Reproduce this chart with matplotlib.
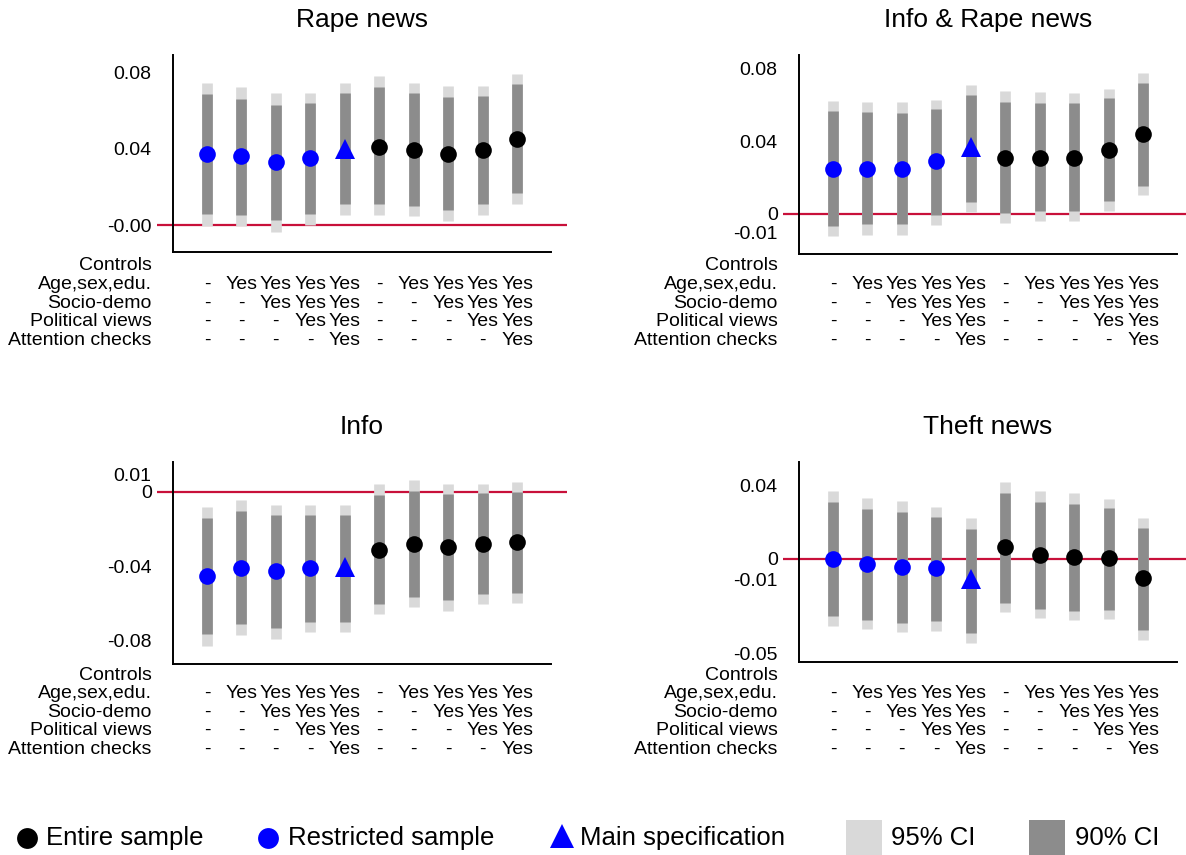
import matplotlib.pyplot as plt
from matplotlib.transforms import blended_transform_factory
from matplotlib.patches import Rectangle
import numpy as np

plt.rcParams['font.family'] = ['Liberation Sans', 'DejaVu Sans']

# specification number (1-5 restricted sample, 6-10 entire sample)
spec = np.arange(1, 11)

# ---- Rape news
rape_est = [0.037, 0.036, 0.033, 0.035, 0.040, 0.041, 0.039, 0.037, 0.039, 0.045]
rape_hi95 = [0.074, 0.072, 0.069, 0.069, 0.0745, 0.078, 0.0745, 0.0725, 0.0725, 0.079]
rape_hi90 = [0.0685, 0.066, 0.063, 0.064, 0.069, 0.072, 0.069, 0.067, 0.0675, 0.0735]
rape_lo90 = [0.006, 0.005, 0.0025, 0.006, 0.011, 0.011, 0.010, 0.008, 0.011, 0.0165]
rape_lo95 = [-0.0003, -0.0003, -0.0035, 0.0002, 0.0055, 0.0055, 0.0045, 0.002, 0.0055, 0.011]

# ---- Info & Rape news
inforape_est = [0.025, 0.025, 0.025, 0.029, 0.037, 0.031, 0.031, 0.031, 0.035, 0.044]
inforape_hi95 = [0.0625, 0.0615, 0.0615, 0.063, 0.071, 0.068, 0.067, 0.0665, 0.069, 0.078]
inforape_hi90 = [0.057, 0.056, 0.0555, 0.058, 0.0655, 0.0615, 0.061, 0.061, 0.064, 0.0725]
inforape_lo90 = [-0.007, -0.0057, -0.0057, -0.0007, 0.0065, 0.0004, 0.0015, 0.0015, 0.007, 0.0153]
inforape_lo95 = [-0.0125, -0.0115, -0.0115, -0.006, 0.001, -0.005, -0.0038, -0.0038, 0.0015, 0.0104]

# ---- Info
info_est = [-0.045, -0.0407, -0.0427, -0.041, -0.0402, -0.031, -0.028, -0.0297, -0.028, -0.027]
info_hi95 = [-0.0082, -0.0044, -0.0071, -0.0071, -0.0071, 0.0043, 0.0064, 0.0043, 0.0043, 0.0053]
info_hi90 = [-0.0139, -0.0101, -0.0123, -0.0123, -0.0123, -0.0014, 0.0005, -0.0009, -0.0005, 0.0002]
info_lo90 = [-0.0763, -0.0709, -0.0731, -0.0699, -0.0699, -0.0603, -0.0564, -0.0581, -0.0549, -0.0544]
info_lo95 = [-0.0825, -0.0766, -0.0788, -0.075, -0.075, -0.0654, -0.0617, -0.0638, -0.0601, -0.0596]

# ---- Theft news
theft_est = [0.0, -0.0027, -0.0043, -0.0052, -0.0112, 0.0063, 0.002, 0.0011, 0.0004, -0.0106]
theft_hi95 = [0.0371, 0.0333, 0.0317, 0.0285, 0.0225, 0.042, 0.0371, 0.036, 0.0328, 0.0225]
theft_hi90 = [0.0312, 0.0274, 0.0258, 0.0231, 0.0166, 0.036, 0.0312, 0.0301, 0.0279, 0.0171]
theft_lo90 = [-0.031, -0.0332, -0.0348, -0.0342, -0.0407, -0.024, -0.0272, -0.0283, -0.0277, -0.0391]
theft_lo95 = [-0.0368, -0.0386, -0.04, -0.0395, -0.0459, -0.0292, -0.0324, -0.0335, -0.033, -0.0443]

# y ticks shown on each panel
rape_ticks = [0.08, 0.04, 0.0]
rape_ticklabels = ['0.08', '0.04', '-0.00']
inforape_ticks = [0.08, 0.04, 0.0, -0.0106]
inforape_ticklabels = ['0.08', '0.04', '0', '-0.01']
info_ticks = [0.0095, 0.0, -0.04, -0.08]
info_ticklabels = ['0.01', '0', '-0.04', '-0.08']
theft_ticks = [0.04, 0.0, -0.0115, -0.052]
theft_ticklabels = ['0.04', '0', '-0.01', '-0.05']

# controls table
row_names = ['Controls', 'Age,sex,edu.', 'Socio-demo', 'Political views', 'Attention checks']
row_age = ['-', 'Yes', 'Yes', 'Yes', 'Yes', '-', 'Yes', 'Yes', 'Yes', 'Yes']
row_socio = ['-', '-', 'Yes', 'Yes', 'Yes', '-', '-', 'Yes', 'Yes', 'Yes']
row_pol = ['-', '-', '-', 'Yes', 'Yes', '-', '-', '-', 'Yes', 'Yes']
row_att = ['-', '-', '-', '-', 'Yes', '-', '-', '-', '-', 'Yes']

BLUE = '#0000FF'
C95 = '#D9D9D9'
C90 = '#8C8C8C'
RED = '#C8103A'

W, H = 1186, 855
fig = plt.figure(figsize=(W / 100, H / 100), dpi=100)


def panel(x0, ytop, ybot, ylim, title, est, lo95, hi95, lo90, hi90, ticks, ticklabels, row_y0):
    ax = fig.add_axes([x0 / W, 1 - ybot / H, 410 / W, (ybot - ytop) / H])
    ax.set_xlim(-0.45, 11.45)
    ax.set_ylim(*ylim)
    ax.axhline(0, color=RED, lw=1.6, zorder=1)
    ax.vlines(spec, lo95, hi95, color=C95, lw=7.7, zorder=2)
    ax.vlines(spec, lo90, hi90, color=C90, lw=7.7, zorder=3)
    e = np.array(est)
    ax.plot(spec[:4], e[:4], 'o', color=BLUE, ms=12, mew=0, zorder=4)
    ax.plot(spec[4:5], e[4:5], '^', color=BLUE, ms=14, mew=0, zorder=4)
    ax.plot(spec[5:], e[5:], 'o', color='black', ms=12, mew=0, zorder=4)

    for s in ['top', 'right']:
        ax.spines[s].set_visible(False)
    ax.spines['left'].set_position(('data', 0))
    ax.spines['bottom'].set_bounds(0, 11)
    for s in ['left', 'bottom']:
        ax.spines[s].set_linewidth(1.4)
    ax.set_xticks([])
    ax.set_yticks(ticks)
    ax.set_yticklabels(ticklabels)
    ax.tick_params(axis='y', length=0, pad=15, labelsize=14)
    ax.set_title(title, fontsize=19, pad=20)

    tr = blended_transform_factory(ax.transData, fig.transFigure)
    rows = [row_age, row_socio, row_pol, row_att]
    for k, name in enumerate(row_names):
        y = 1 - (row_y0 + k * 18.6) / H
        ax.text(-0.6, y, name, transform=tr, ha='right', va='center', fontsize=14, clip_on=False)
        if k > 0:
            for i, v in enumerate(rows[k - 1]):
                ax.text(spec[i], y, v, transform=tr, ha='center', va='center', fontsize=14, clip_on=False)
    return ax


panel(157, 55, 252, (-0.0141, 0.0889), 'Rape news', rape_est, rape_lo95, rape_hi95,
      rape_lo90, rape_hi90, rape_ticks, rape_ticklabels, 266)
panel(783, 55, 254, (-0.0222, 0.0877), 'Info & Rape news', inforape_est, inforape_lo95, inforape_hi95,
      inforape_lo90, inforape_hi90, inforape_ticks, inforape_ticklabels, 266)
panel(157, 462, 664, (-0.0924, 0.0161), 'Info', info_est, info_lo95, info_hi95,
      info_lo90, info_hi90, info_ticks, info_ticklabels, 675)
panel(783, 462, 662, (-0.0564, 0.0530), 'Theft news', theft_est, theft_lo95, theft_hi95,
      theft_lo90, theft_hi90, theft_ticks, theft_ticklabels, 675)

# legend row
lg = fig.add_axes([0, 0, 1, 70 / H])
lg.set_xlim(0, W)
lg.set_ylim(H, H - 70)
lg.axis('off')
ly = 838
lg.plot(27, ly, 'o', color='black', ms=15, mew=0)
lg.text(46, ly, 'Entire sample', fontsize=18.5, va='center')
lg.plot(268, ly, 'o', color=BLUE, ms=15, mew=0)
lg.text(288, ly, 'Restricted sample', fontsize=18.5, va='center')
lg.plot(562, ly - 2, '^', color=BLUE, ms=17, mew=0)
lg.text(580, ly, 'Main specification', fontsize=18.5, va='center')
lg.add_patch(Rectangle((846, 820), 36, 36, color=C95, lw=0))
lg.text(891, ly, '95% CI', fontsize=18.5, va='center')
lg.add_patch(Rectangle((1029, 820), 36, 36, color=C90, lw=0))
lg.text(1075, ly, '90% CI', fontsize=18.5, va='center')

fig.savefig('out.png', dpi=100)
